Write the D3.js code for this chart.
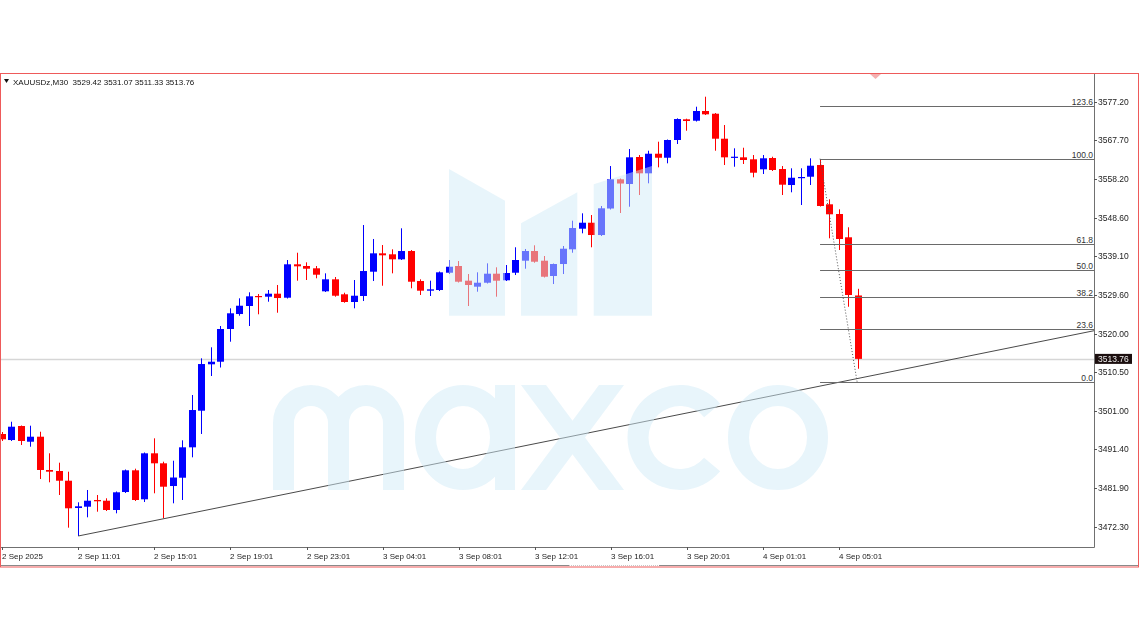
<!DOCTYPE html>
<html><head><meta charset="utf-8">
<script src="https://cdn.jsdelivr.net/npm/d3@7"></script>
<style>html,body{margin:0;padding:0;background:#fff;} svg{display:block;}</style>
</head><body>
<svg id="c" width="1140" height="641"></svg>
<script>
const symbolInfo = "XAUUSDz,M30";
const headerOHLC = ["3529.42", "3531.07", "3511.33", "3513.76"];

const opens = [3495.21,3493.72,3497.18,3493.30,3494.54,3486.32,3486.07,3483.67,3476.93,3477.25,
3478.91,3478.73,3476.44,3480.88,3486.24,3479.08,3490.44,3487.97,3482.36,3484.41,
3491.92,3500.96,3512.42,3513.06,3521.14,3524.84,3526.82,3529.29,3529.12,3529.86,
3528.87,3537.12,3536.70,3536.13,3530.45,3533.41,3529.71,3527.81,3529.29,3535.29,
3539.83,3539.59,3538.35,3540.40,3532.99,3530.60,3530.77,3535.04,3536.70,3533.07,
3531.59,3532.57,3534.80,3533.17,3535.04,3538.01,3540.40,3538.01,3534.23,3537.19,
3540.82,3545.91,3547.39,3544.35,3550.90,3558.11,3556.95,3563.62,3559.59,3564.43,
3563.44,3567.82,3572.93,3572.58,3574.98,3574.31,3568.14,3563.44,3563.54,3563.05,
3560.58,3563.37,3560.65,3556.70,3558.50,3558.75,3561.64,3551.94,3549.54,3543.79,
3529.42];
const highs = [3495.70,3498.24,3497.31,3497.26,3495.77,3490.44,3488.12,3485.90,3478.34,3481.38,
3480.14,3479.33,3481.01,3486.44,3486.64,3490.64,3494.14,3488.37,3488.61,3493.65,
3504.84,3513.90,3516.62,3521.88,3526.25,3528.72,3530.20,3529.78,3530.77,3532.01,
3538.18,3539.98,3537.61,3536.70,3534.89,3533.98,3530.10,3533.24,3546.82,3543.37,
3541.88,3540.82,3546.01,3540.65,3533.41,3533.07,3535.34,3538.18,3537.93,3534.72,
3535.14,3537.36,3536.38,3536.94,3541.32,3540.90,3541.81,3539.17,3537.31,3541.64,
3547.89,3549.71,3549.29,3551.52,3561.39,3558.31,3565.59,3564.11,3565.17,3567.40,
3567.94,3573.17,3573.08,3576.04,3578.51,3574.48,3571.52,3565.77,3565.91,3564.11,
3564.11,3563.69,3561.39,3560.83,3560.83,3563.30,3563.05,3553.17,3550.70,3546.26,
3531.07];
const lows = [3493.48,3493.48,3492.49,3492.07,3484.09,3483.28,3480.14,3472.07,3470.02,3474.63,
3476.02,3476.19,3475.62,3480.64,3478.66,3478.41,3480.56,3474.39,3478.09,3478.91,
3489.45,3495.21,3509.53,3511.63,3518.00,3524.42,3521.88,3524.77,3527.88,3525.16,
3528.67,3533.07,3533.24,3533.66,3530.28,3529.12,3527.63,3526.25,3528.05,3532.99,
3531.83,3534.89,3538.18,3531.19,3529.54,3529.29,3530.52,3534.72,3532.62,3526.82,
3530.35,3532.38,3529.12,3532.99,3534.47,3536.03,3537.51,3533.86,3532.25,3534.72,
3539.98,3544.77,3541.32,3544.11,3550.65,3549.79,3551.34,3554.23,3557.12,3561.07,
3562.06,3566.83,3570.11,3572.38,3573.99,3565.17,3561.64,3561.22,3561.89,3558.60,
3559.42,3560.16,3554.23,3554.90,3551.76,3556.70,3551.39,3543.54,3540.65,3526.64,
3511.33];
const closes = [3493.90,3497.01,3493.48,3494.54,3486.32,3485.90,3483.67,3476.86,3477.35,3478.73,
3478.59,3476.44,3480.81,3486.24,3478.91,3490.44,3487.97,3482.19,3484.46,3491.92,
3501.13,3512.49,3513.06,3521.14,3525.02,3526.89,3529.21,3529.04,3529.86,3528.79,
3537.12,3536.62,3536.03,3534.55,3533.41,3529.36,3527.81,3529.36,3535.46,3539.83,
3539.34,3538.35,3540.40,3532.82,3530.60,3530.94,3535.14,3536.52,3532.82,3532.01,
3532.57,3534.80,3533.07,3534.97,3538.18,3540.40,3537.76,3534.05,3537.19,3540.97,
3546.08,3547.39,3544.35,3550.95,3558.11,3557.07,3563.54,3559.59,3564.43,3563.44,
3567.82,3573.00,3572.51,3574.98,3574.16,3568.14,3563.54,3563.69,3562.88,3559.74,
3563.30,3560.41,3556.78,3558.50,3558.68,3561.47,3551.52,3549.47,3543.37,3529.54,
3513.76];

const timeLabels = ["2 Sep 2025","2 Sep 11:01","2 Sep 15:01","2 Sep 19:01","2 Sep 23:01","3 Sep 04:01",
  "3 Sep 08:01","3 Sep 12:01","3 Sep 16:01","3 Sep 20:01","4 Sep 01:01","4 Sep 05:01"];
const timeLabelIdx = [0,8,16,24,32,40,48,56,64,72,80,88];
const priceTicks = [3577.20,3567.70,3558.20,3548.60,3539.10,3529.60,3520.00,3510.50,3501.00,3491.40,3481.90,3472.30];
const fibLevels = [123.6, 100.0, 61.8, 50.0, 38.2, 23.6, 0.0];
const fibAnchor = {i1: 86, p1: 3563.20, i2: 89.9, p2: 3508.05};
const trendPts = [{i: 8, p: 3470.02}, {i: 90, p: 3508.94}];
const lastPrice = 3513.76;

const svg = d3.select("#c");
const FONT = "'Liberation Sans', Arial, sans-serif";
const L = 1, R = 1094, T = 74, B = 547;

const x = d3.scaleLinear().domain([0, 90]).range([2.2, 858.1]);
const y = d3.scaleLinear().domain([3467.30, 3584.12]).range([B, T]);

svg.append("rect").attr("width",1140).attr("height",641).attr("fill","#fff");

// clip
svg.append("defs").append("clipPath").attr("id","plot")
  .append("rect").attr("x",L).attr("y",T).attr("width",R-L).attr("height",B-T);

const plot = svg.append("g").attr("clip-path","url(#plot)");

// current price line
plot.append("line").attr("x1",L).attr("x2",R)
  .attr("y1",Math.round(y(lastPrice))+0.5).attr("y2",Math.round(y(lastPrice))+0.5)
  .attr("stroke","#d6d6d6").attr("stroke-width",1.5);

// candles
const idx = d3.range(opens.length);
const cg = plot.append("g");
idx.forEach(i => {
  const o = opens[i], c = closes[i], h = highs[i], l = lows[i];
  const col = c >= o ? "#0000ff" : "#ff0000";
  const left = Math.round(x(i) - 3.5);
  const cx = left + 3.5;
  cg.append("line").attr("x1",cx).attr("x2",cx)
    .attr("y1",y(h)).attr("y2",y(l)).attr("stroke",col).attr("stroke-width",1);
  const yt = y(Math.max(o,c)), yb = y(Math.min(o,c));
  cg.append("rect").attr("x",left).attr("width",7)
    .attr("y",yt).attr("height",Math.max(1.2, yb-yt)).attr("fill",col);
});

// trend line (ray to right edge)
{
  const x1 = x(trendPts[0].i), y1 = y(trendPts[0].p);
  const x2 = x(trendPts[1].i), y2 = y(trendPts[1].p);
  const slope = (y2-y1)/(x2-x1);
  plot.append("line").attr("x1",x1).attr("y1",y1).attr("x2",R).attr("y2",y1+slope*(R-x1))
    .attr("stroke","#4a4a4a").attr("stroke-width",1);
}

// fibonacci
const fibRange = fibAnchor.p1 - fibAnchor.p2;
const fg = svg.append("g");
fibLevels.forEach(lv => {
  const py = Math.round(y(fibAnchor.p2 + fibRange*lv/100)) + 0.5;
  fg.append("line").attr("x1",x(fibAnchor.i1)).attr("x2",R).attr("y1",py).attr("y2",py)
    .attr("stroke","#6a6a6a").attr("stroke-width",1);
  fg.append("text").attr("x",R-1).attr("y",py-2).attr("text-anchor","end")
    .attr("font-family",FONT).attr("font-size","8.5px").attr("fill","#333")
    .text(lv.toFixed(1));
});
fg.append("line").attr("x1",x(fibAnchor.i1)).attr("y1",y(fibAnchor.p1))
  .attr("x2",x(fibAnchor.i2)).attr("y2",y(fibAnchor.p2))
  .attr("stroke","#555").attr("stroke-width",1).attr("stroke-dasharray","1,2");

// watermark
const wm = svg.append("g").attr("opacity",0.5).attr("clip-path","url(#plot)");
const wc = "#d1ebf7";
const polys = [
  [[449,169],[505,200.7],[505,315.7],[449,315.7]],
  [[521,223.3],[577.3,192.3],[577.3,315.7],[521,315.7]],
  [[593.7,184.3],[652,166],[652,315.7],[593.7,315.7]],
  [[521,385],[546,385],[624,490],[599,490]],
  [[599,385],[624,385],[546,490],[521,490]]
];
polys.forEach(p => wm.append("polygon").attr("points",p.map(d=>d.join(",")).join(" ")).attr("fill",wc));
wm.append("path").attr("d","M283.5,490 V423 A27.5,27.5 0 0 1 338.5,423 V490 M338.5,423 A27.5,27.5 0 0 1 393.5,423 V490")
  .attr("fill","none").attr("stroke",wc).attr("stroke-width",21);
wm.append("ellipse").attr("cx",463).attr("cy",437.5).attr("rx",37.5).attr("ry",42)
  .attr("fill","none").attr("stroke",wc).attr("stroke-width",21);
wm.append("rect").attr("x",495).attr("y",385).attr("width",20).attr("height",105).attr("fill",wc);
const carc = d3.arc().innerRadius(31.5).outerRadius(52.5)
  .startAngle(Math.PI/2 + 0.7).endAngle(Math.PI/2 + 2*Math.PI - 0.7);
wm.append("path").attr("transform","translate(680,437.5)").attr("d",carc()).attr("fill",wc);
wm.append("ellipse").attr("cx",778).attr("cy",437.5).attr("rx",39.5).attr("ry",42)
  .attr("fill","none").attr("stroke",wc).attr("stroke-width",21);

// frame
svg.append("line").attr("x1",L).attr("x2",R+0.5).attr("y1",B+0.5).attr("y2",B+0.5).attr("stroke","#707070");
svg.append("line").attr("x1",R+0.5).attr("x2",R+0.5).attr("y1",T).attr("y2",B+0.5).attr("stroke","#707070");

// price axis
const pa = svg.append("g");
priceTicks.forEach(v => {
  const py = Math.round(y(v)) + 0.5;
  pa.append("line").attr("x1",R).attr("x2",R+3).attr("y1",py).attr("y2",py).attr("stroke","#555");
  pa.append("text").attr("x",R+4).attr("y",py).attr("dy","0.35em")
    .attr("font-family",FONT).attr("font-size","8.5px").attr("fill","#222").text(v.toFixed(2));
});
// current price label
{
  const py = y(lastPrice);
  pa.append("rect").attr("x",R+1).attr("y",py-5).attr("width",37).attr("height",10).attr("fill","#1c0f0f");
  pa.append("text").attr("x",R+4).attr("y",py).attr("dy","0.35em")
    .attr("font-family",FONT).attr("font-size","8.5px").attr("fill","#f2f2f2").text(lastPrice.toFixed(2));
}

// time axis
const ta = svg.append("g");
timeLabelIdx.forEach((ti, k) => {
  const tx = Math.round(x(ti)) + 0.5;
  ta.append("line").attr("x1",tx).attr("x2",tx).attr("y1",B).attr("y2",B+3).attr("stroke","#555");
  ta.append("text").attr("x",tx-0.5).attr("y",559)
    .attr("font-family",FONT).attr("font-size","8px").attr("fill","#222").text(timeLabels[k]);
});

// bottom lines & scroll marker
svg.append("line").attr("x1",0).attr("x2",569).attr("y1",565.5).attr("y2",565.5).attr("stroke","#8a8a8a");
svg.append("line").attr("x1",659).attr("x2",1139).attr("y1",565.5).attr("y2",565.5).attr("stroke","#8a8a8a");
svg.append("line").attr("x1",569).attr("x2",659).attr("y1",565.5).attr("y2",565.5)
  .attr("stroke","#c8c8c8").attr("stroke-dasharray","1,1");

// outer red border
svg.append("rect").attr("x",0.5).attr("y",73.5).attr("width",1138).attr("height",493.5)
  .attr("fill","none").attr("stroke","#ee5a5a").attr("stroke-width",1);

// shift marker
svg.append("polygon").attr("points","870,74 881,74 875.5,79").attr("fill","#f4b0b0");

// header
svg.append("path").attr("d","M4,79 L9,79 L6.5,83 Z").attr("fill","#111");
svg.append("text").attr("x",13).attr("y",85)
  .attr("font-family",FONT).attr("font-size","8px").attr("fill","#111")
  .attr("xml:space","preserve").style("white-space","pre")
  .text(symbolInfo + "  " + headerOHLC.join(" "));
</script>
</body></html>
